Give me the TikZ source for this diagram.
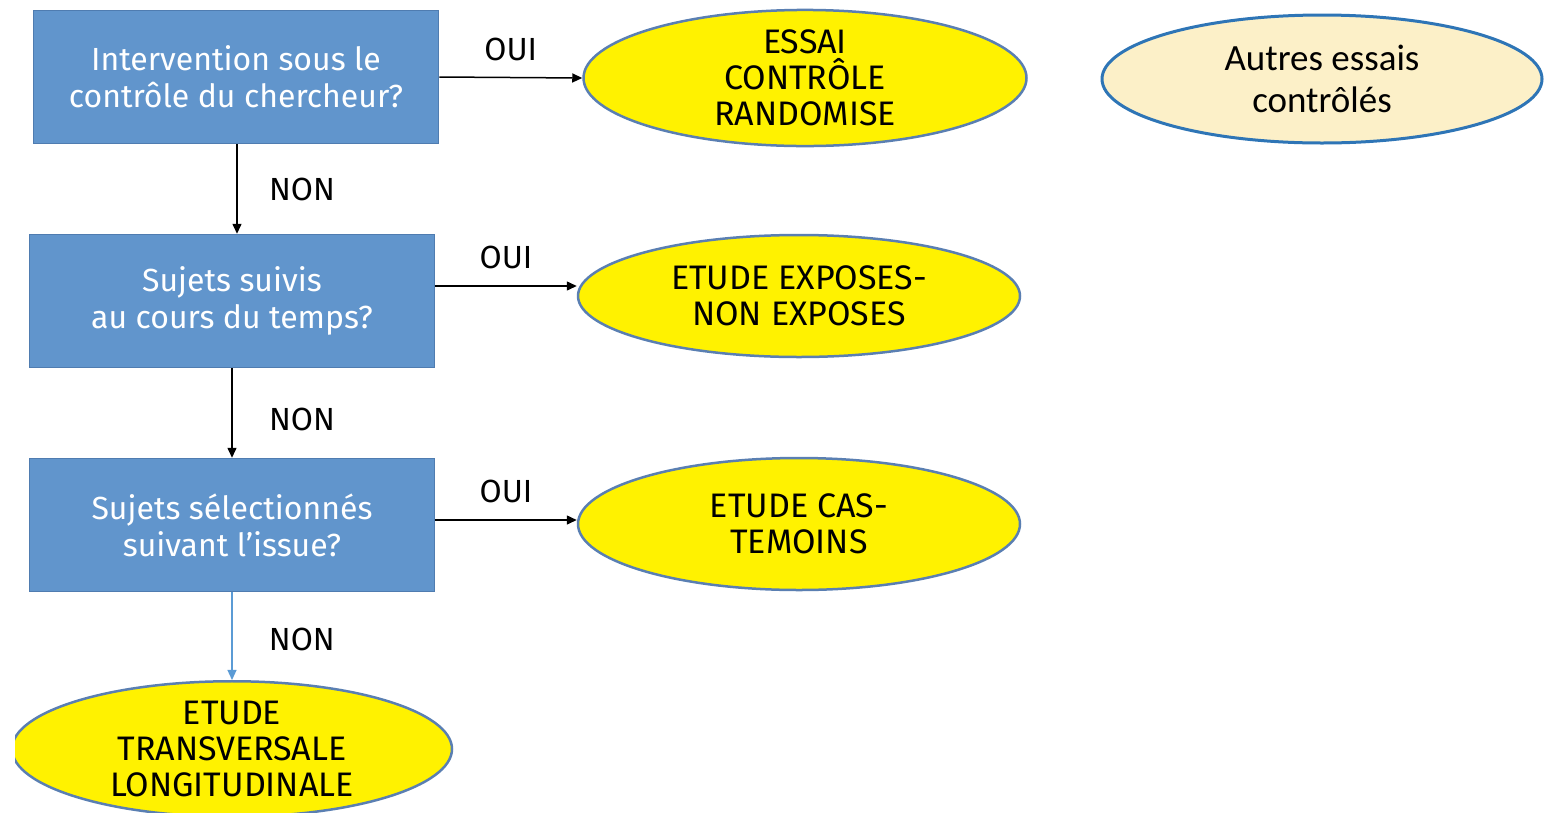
\documentclass[tikz,border=0pt]{standalone}
\usepackage{fontspec}
\setmainfont{Fira Sans}
\newfontfamily\calib{Carlito}
\usetikzlibrary{shapes.geometric,arrows.meta}
\definecolor{boxblue}{HTML}{6195CC}
\definecolor{boxedge}{HTML}{4F7CB0}
\definecolor{elledge}{HTML}{5A7FB2}
\definecolor{cream}{HTML}{FCF0C8}
\definecolor{otherblue}{HTML}{2E75B6}
\definecolor{lightarrow}{HTML}{5B9BD5}
\tikzset{
  qbox/.style={rectangle, fill=boxblue, draw=boxedge, line width=1.5pt, text=white,
    minimum width=405pt, minimum height=133pt, align=center,
    font=\fontsize{32}{37}\selectfont},
  outell/.style={ellipse, fill=yellow, draw=elledge, line width=2.5pt, text=black,
    inner sep=0pt, align=center, font=\fontsize{34}{36}\selectfont},
  other/.style={ellipse, fill=cream, draw=otherblue, line width=3pt, text=black,
    inner sep=0pt, align=center, font=\calib\fontsize{37}{42}\selectfont},
  arr/.style={-{Triangle[length=10pt,width=9pt]}, line width=1.5pt, black},
  lab/.style={font=\fontsize{32}{34}\selectfont, text=black}
}
\begin{document}
\begin{tikzpicture}[x=1pt,y=-1pt]
\useasboundingbox (0,0) rectangle (1544,812);
% question boxes
\node[qbox] (b1) at (236,77) {Intervention sous le\\contrôle du chercheur?};
\node[qbox] (b2) at (232,301) {Sujets suivis\\au cours du temps?};
\node[qbox] (b3) at (232,525) {Sujets sélectionnés\\suivant l’issue?};
% outcome ellipses
\node[outell, minimum width=443pt, minimum height=136pt] (e1) at (805,78) {ESSAI\\CONTRÔLE\\RANDOMISE};
\node[outell, minimum width=442pt, minimum height=122pt] (e2) at (799,296) {ETUDE EXPOSES-\\NON EXPOSES};
\node[outell, minimum width=442pt, minimum height=132pt] (e3) at (799,524) {ETUDE CAS-\\TEMOINS};
\begin{scope}
\clip (15,600) rectangle (1544,812);
\node[outell, minimum width=440pt, minimum height=132pt] (e4) at (232,749) {ETUDE\\TRANSVERSALE\\LONGITUDINALE};
\end{scope}
% other trials
\node[other, minimum width=440pt, minimum height=128pt] (o1) at (1322,79) {Autres essais\\contrôlés};
% OUI connectors
\draw[arr] (b1.east) -- (e1.west) node[lab, midway, above=13pt] (l1) {OUI};
\draw[arr] ([yshift=15pt]b2.east) -- ([yshift=15pt]b2.east -| e2.west) node[lab, midway, above=13pt] (l2) {OUI};
\draw[arr] ([yshift=5pt]b3.east) -- ([yshift=5pt]b3.east -| e3.west) node[lab, midway, above=13pt] (l3) {OUI};
% NON connectors
\draw[arr] (b1.south -| 237,0) -- (b2.north -| 237,0) node[lab, midway, anchor=west, xshift=28pt] (n1) {NON};
\draw[arr] (b2.south) -- (b3.north) node[lab, midway, anchor=west, xshift=33pt, yshift=-6pt] (n2) {NON};
\draw[arr, lightarrow, line width=1.2pt] (b3.south) -- (e4.north) node[lab, midway, anchor=west, xshift=33pt, yshift=-3pt] (n3) {NON};
\end{tikzpicture}
\end{document}
